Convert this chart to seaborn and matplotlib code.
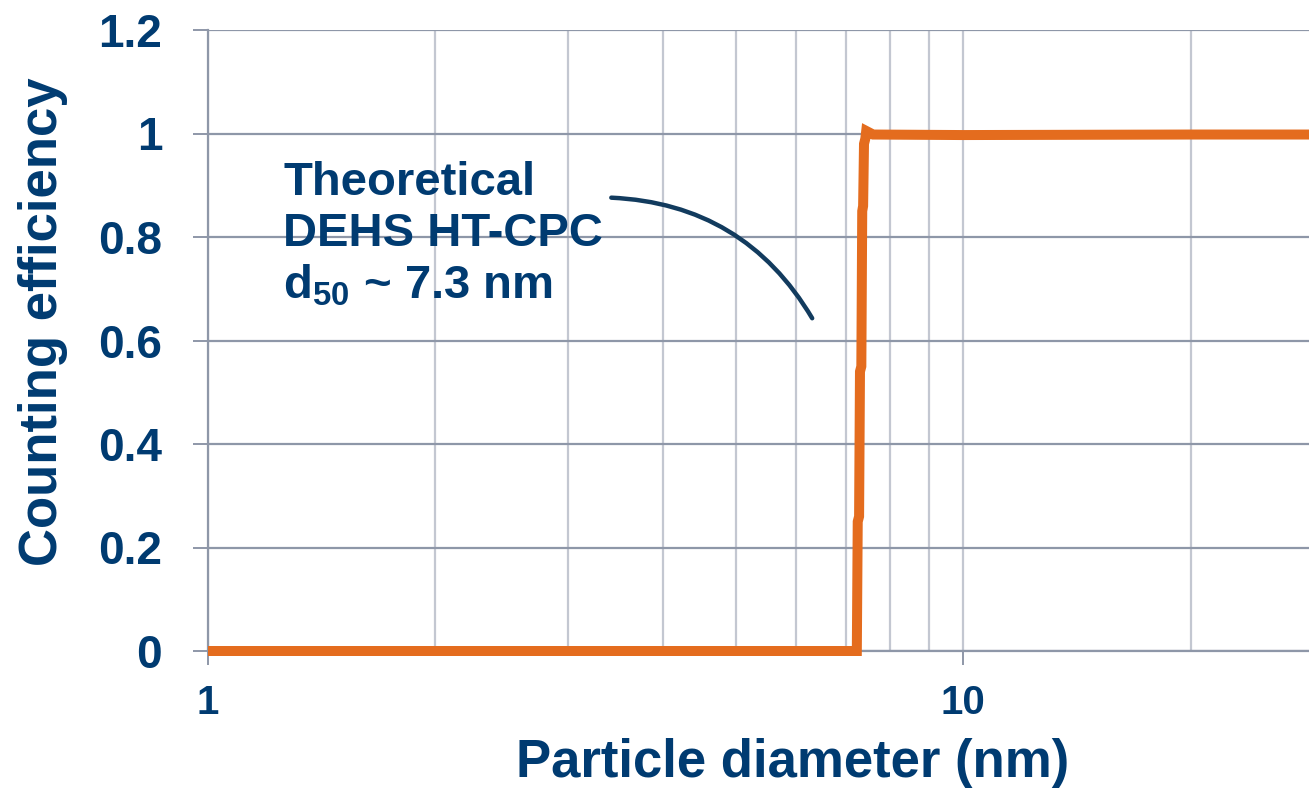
import numpy as np
import pandas as pd
import matplotlib
matplotlib.use("Agg")
import matplotlib.pyplot as plt
from matplotlib.ticker import FixedLocator, FixedFormatter, LogLocator, NullFormatter
import seaborn as sns

# Theoretical counting efficiency curve of the DEHS HT-CPC
diameter_nm = [1.0, 7.22, 7.23, 7.25, 7.28, 7.30, 7.33, 7.35, 7.37, 7.39,
               7.42, 7.44, 7.60, 10.0, 20.0, 28.7]
efficiency = [0.0, 0.0, 0.0, 0.25, 0.26, 0.54, 0.55, 0.85, 0.86, 0.98,
              0.99, 1.005, 0.998, 0.997, 0.998, 0.998]

y_ticks = [0, 0.2, 0.4, 0.6, 0.8, 1.0, 1.2]
y_tick_labels = ["0", "0.2", "0.4", "0.6", "0.8", "1", "1.2"]
x_ticks = [1, 10]
x_tick_labels = ["1", "10"]

NAVY = "#003B71"
ORANGE = "#E46C1E"
AXIS_GREY = "#8E97A8"
GRID_LIGHT = "#C3C7D1"

sns.set_theme(style="white")
plt.rcParams["font.family"] = ["Liberation Sans", "DejaVu Sans"]
plt.rcParams["font.weight"] = "bold"
plt.rcParams["mathtext.fontset"] = "custom"
plt.rcParams["mathtext.rm"] = "Liberation Sans:bold"
plt.rcParams["mathtext.it"] = "Liberation Sans:bold"
plt.rcParams["mathtext.bf"] = "Liberation Sans:bold"

df = pd.DataFrame({"diameter": diameter_nm, "efficiency": efficiency})

fig = plt.figure(figsize=(13.09, 7.88), dpi=100)
ax = fig.add_axes([208 / 1309, 1 - 651 / 788, 1 - 208 / 1309, (651 - 30) / 788])

ax.set_xscale("log")
ax.set_xlim(1, 28.7)
ax.set_ylim(0, 1.2)

# grid: light verticals at every decade subdivision, darker horizontals
ax.xaxis.set_major_locator(FixedLocator(x_ticks))
ax.xaxis.set_major_formatter(FixedFormatter(x_tick_labels))
ax.xaxis.set_minor_locator(LogLocator(base=10, subs=np.arange(2, 10)))
ax.xaxis.set_minor_formatter(NullFormatter())
ax.yaxis.set_major_locator(FixedLocator(y_ticks))
ax.yaxis.set_major_formatter(FixedFormatter(y_tick_labels))
ax.grid(which="both", axis="x", color=GRID_LIGHT, lw=1.6)
ax.grid(which="major", axis="y", color=AXIS_GREY, lw=1.6)
ax.set_axisbelow(True)

sns.lineplot(data=df, x="diameter", y="efficiency", ax=ax, color=ORANGE,
             lw=7.2, estimator=None, sort=False, clip_on=False, zorder=5)
for line in ax.lines:
    line.set_solid_joinstyle("miter")
    line.set_solid_capstyle("butt")

for side in ["top", "right"]:
    ax.spines[side].set_visible(False)
for side in ["left", "bottom"]:
    ax.spines[side].set_color(AXIS_GREY)
    ax.spines[side].set_linewidth(1.6)

ax.tick_params(axis="y", which="major", direction="out", length=11, width=1.4,
               color=AXIS_GREY, pad=22, labelsize=33, labelcolor=NAVY, left=True)
ax.tick_params(axis="x", which="major", direction="out", length=10, width=1.4,
               color=AXIS_GREY, pad=14, labelsize=29, labelcolor=NAVY, bottom=True)
ax.tick_params(axis="x", which="minor", length=0)
for lab in ax.get_xticklabels() + ax.get_yticklabels():
    lab.set_fontweight("bold")

ax.set_xlabel("Particle diameter (nm)", fontsize=38, fontweight="bold", color=NAVY)
ax.set_ylabel("Counting efficiency", fontsize=38, fontweight="bold", color=NAVY)
ax.xaxis.set_label_coords(0.531, -0.14)
ax.yaxis.set_label_coords(-0.127, 0.53)

ax.text(1.257, 0.947, "Theoretical\nDEHS HT-CPC\nd$_{50}$ ~ 7.3 nm",
        fontsize=34, fontweight="bold", color=NAVY, ha="left", va="top",
        linespacing=1.2)

ax.annotate("", xy=(6.31, 0.643), xytext=(3.42, 0.876),
            arrowprops=dict(arrowstyle="-", color="#123B5E", lw=3.2,
                            connectionstyle="arc3,rad=-0.27",
                            shrinkA=0, shrinkB=0))

fig.savefig("out.png", dpi=100)
